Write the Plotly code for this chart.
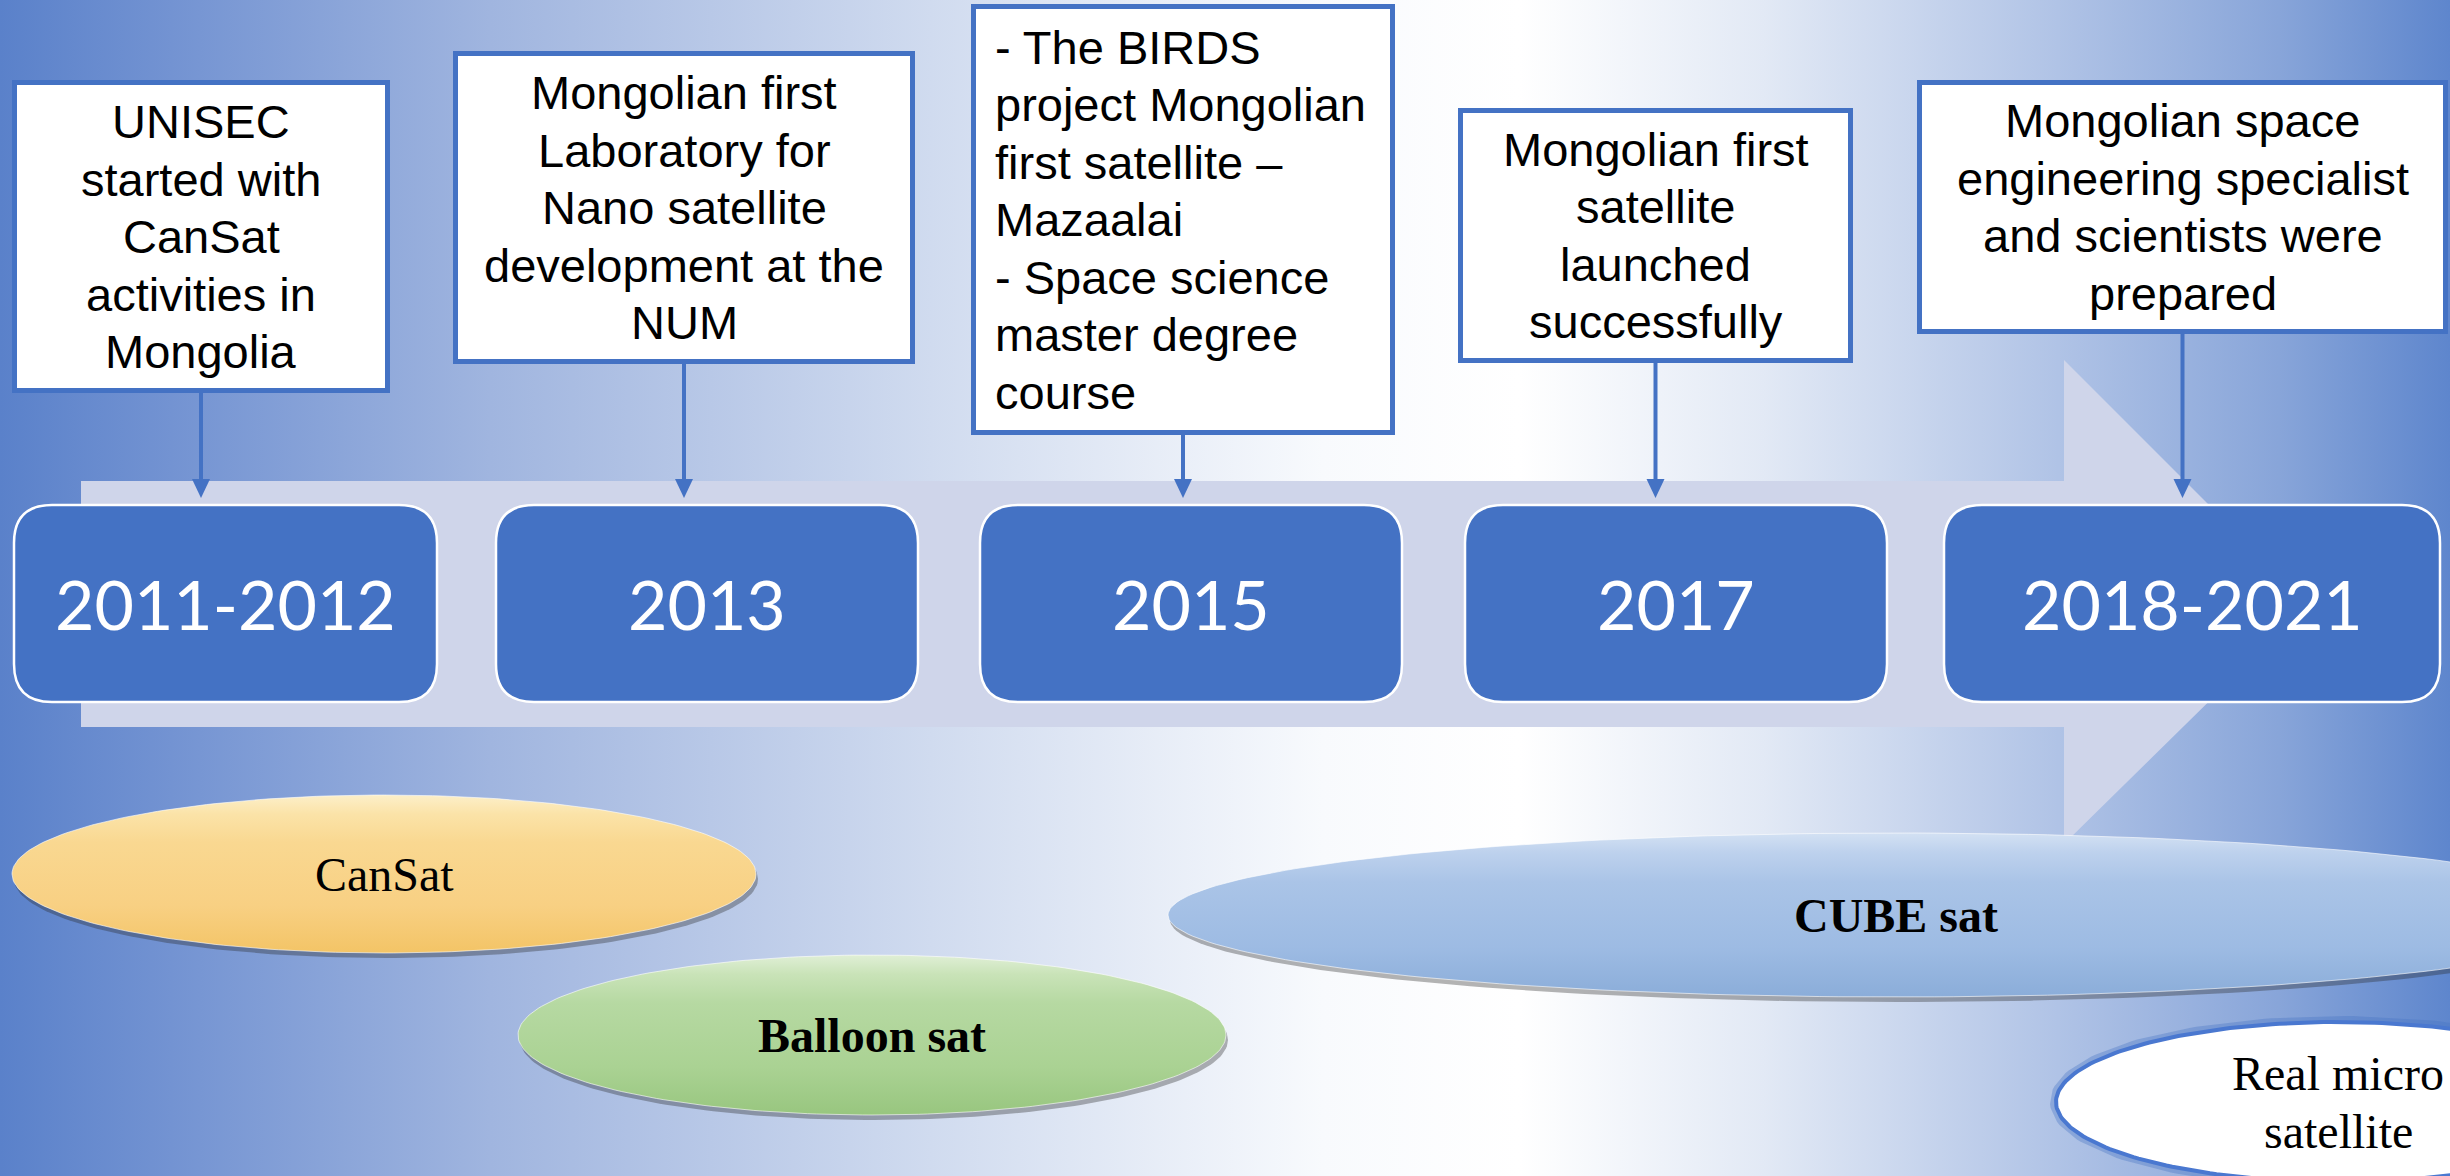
import numpy as np
import plotly.graph_objects as go

# ---------------- content ----------------
years = ["2011-2012", "2013", "2015", "2017", "2018-2021"]

event_lines = [
    ["UNISEC", "started with", "CanSat", "activities in", "Mongolia"],
    ["Mongolian first", "Laboratory for", "Nano satellite", "development at the", "NUM"],
    ["- The BIRDS", "project Mongolian", "first satellite \u2013", "Mazaalai",
     "- Space science", "master degree", "course"],
    ["Mongolian first", "satellite", "launched", "successfully"],
    ["Mongolian space", "engineering specialist", "and scientists were", "prepared"],
]
event_align = ["center", "center", "left", "center", "center"]

stage_lines = [["CanSat"], ["Balloon sat"], ["CUBE sat"], ["Real micro", "satellite"]]
stage_bold = [False, True, True, False]

# ---------------- layout geometry (pixels) ----------------
W, H = 2450, 1176
BLUE = "#4472C4"
YEAR_X = [(14, 437), (496, 918), (980, 1402), (1465, 1887), (1944, 2440)]
YEAR_Y = (505, 702)
EVENT_BOX = [(12, 390, 80, 393), (453, 915, 51, 364), (971, 1395, 4, 435),
             (1458, 1853, 108, 363), (1917, 2448, 80, 334)]
ELLIPSES = [(384, 874, 372, 79), (872, 1035, 354, 80), (1896, 915, 728, 82), (2338, 1102, 282, 80)]
# colours listed top -> bottom
STAGE_SCALES = [
    [[0, "#fcefc9"], [0.12, "#fbe3a8"], [0.3, "#f9d891"], [0.7, "#f8d083"], [1, "#f3c466"]],
    [[0, "#e0efd6"], [0.12, "#c9e3b8"], [0.3, "#b6d9a2"], [0.7, "#aad293"], [1, "#98c67f"]],
    [[0, "#d3e1f3"], [0.12, "#bdd1ed"], [0.3, "#aac4e7"], [0.7, "#9dbbe3"], [1, "#8badd9"]],
    None,
]
BG_SCALE = [[0, "#5a81ca"], [0.07, "#7393d2"], [0.2, "#a0b5df"], [0.38, "#d0dbef"],
            [0.54, "#f8fafd"], [0.62, "#ffffff"], [0.72, "#e2e9f5"], [0.84, "#b0c3e6"],
            [0.93, "#88a5d9"], [1, "#5e86cd"]]
LINE_STEP = 57.5


def flip(scale):
    return [[round(1 - p, 4), c] for p, c in reversed(scale)]


fig = go.Figure()

# background
fig.add_trace(go.Scatter(x=[0, W, W, 0, 0], y=[0, 0, H, H, 0], mode="lines", fill="toself",
                         line=dict(width=0), fillgradient=dict(type="horizontal", colorscale=BG_SCALE),
                         hoverinfo="skip"))

# big timeline arrow
bx0, bx1, by0, by1 = 81, 2064, 481, 727
hy0, hy1 = 360, 844
tip = bx1 + (by0 + by1) / 2 - hy0
fig.add_trace(go.Scatter(x=[bx0, bx1, bx1, tip, bx1, bx1, bx0, bx0],
                         y=[by0, by0, hy0, (by0 + by1) / 2, hy1, by1, by1, by0],
                         mode="lines", fill="toself", fillcolor="#cfd5ea",
                         line=dict(width=0), hoverinfo="skip"))

# stage ellipses
t = np.linspace(0, 2 * np.pi, 241)
for i, (cx, cy, rx, ry) in enumerate(ELLIPSES):
    ex = cx + rx * np.cos(t)
    ey = cy + ry * np.sin(t)
    if STAGE_SCALES[i] is not None:
        fig.add_trace(go.Scatter(x=ex + 2, y=ey + 5, mode="lines", fill="toself",
                                 fillcolor="rgba(40,40,40,0.35)", line=dict(width=0), hoverinfo="skip"))
        fig.add_trace(go.Scatter(x=ex, y=ey, mode="lines", fill="toself",
                                 fillgradient=dict(type="vertical", colorscale=flip(STAGE_SCALES[i])),
                                 line=dict(width=1, color="rgba(255,255,255,0.6)"), hoverinfo="skip"))
    else:
        fig.add_trace(go.Scatter(x=ex, y=ey, mode="lines", line=dict(width=12, color="rgba(68,114,196,0.35)"),
                                 hoverinfo="skip"))
        fig.add_trace(go.Scatter(x=ex, y=ey, mode="lines", fill="toself", fillcolor="white",
                                 line=dict(width=4, color="#4a78d0"), hoverinfo="skip"))

shapes = []
annotations = []


def rounded(x0, y0, x1, y1, r):
    return (f"M {x0 + r},{y0} L {x1 - r},{y0} Q {x1},{y0} {x1},{y0 + r} "
            f"L {x1},{y1 - r} Q {x1},{y1} {x1 - r},{y1} L {x0 + r},{y1} "
            f"Q {x0},{y1} {x0},{y1 - r} L {x0},{y0 + r} Q {x0},{y0} {x0 + r},{y0} Z")


# year boxes
for (x0, x1), label in zip(YEAR_X, years):
    shapes.append(dict(type="path", path=rounded(x0, YEAR_Y[0], x1, YEAR_Y[1], 38),
                       fillcolor=BLUE, line=dict(color="white", width=2.5), layer="above"))
    annotations.append(dict(x=(x0 + x1) / 2, y=(YEAR_Y[0] + YEAR_Y[1]) / 2, text=label, showarrow=False,
                            xanchor="center", yanchor="middle",
                            font=dict(family="Lato", size=68, color="white")))

# event boxes + connectors
for (x0, x1, y0, y1), lines, align in zip(EVENT_BOX, event_lines, event_align):
    lw = 5
    shapes.append(dict(type="rect", x0=x0 + lw / 2, x1=x1 - lw / 2, y0=y0 + lw / 2, y1=y1 - lw / 2,
                       fillcolor="white", line=dict(color=BLUE, width=lw), layer="above"))
    cx = (x0 + x1) / 2
    cy = (y0 + y1) / 2
    n = len(lines)
    for k, txt in enumerate(lines):
        ly = cy + (k - (n - 1) / 2) * LINE_STEP
        if align == "left":
            annotations.append(dict(x=x0 + 22, y=ly, text=txt, showarrow=False, xanchor="left",
                                    yanchor="middle",
                                    font=dict(family="Liberation Sans", size=47, color="black")))
        else:
            annotations.append(dict(x=cx, y=ly, text=txt, showarrow=False, xanchor="center",
                                    yanchor="middle",
                                    font=dict(family="Liberation Sans", size=47, color="black")))
    tip_y = YEAR_Y[0] - 7
    shapes.append(dict(type="line", x0=cx, x1=cx, y0=y1, y1=tip_y - 14,
                       line=dict(color=BLUE, width=4), layer="above"))
    shapes.append(dict(type="path", path=f"M {cx - 9},{tip_y - 19} L {cx + 9},{tip_y - 19} L {cx},{tip_y} Z",
                       fillcolor=BLUE, line=dict(width=0), layer="above"))

# stage labels
for (cx, cy, rx, ry), lines, bold in zip(ELLIPSES, stage_lines, stage_bold):
    n = len(lines)
    for k, txt in enumerate(lines):
        ly = cy + (k - (n - 1) / 2) * 58
        annotations.append(dict(x=cx, y=ly, text=f"<b>{txt}</b>" if bold else txt, showarrow=False,
                                xanchor="center", yanchor="middle",
                                font=dict(family="Liberation Serif", size=48, color="black")))

fig.update_layout(
    width=W, height=H, autosize=False,
    margin=dict(l=0, r=0, t=0, b=0, pad=0),
    paper_bgcolor="white", plot_bgcolor="white",
    showlegend=False,
    xaxis=dict(range=[0, W], visible=False, fixedrange=True),
    yaxis=dict(range=[H, 0], visible=False, fixedrange=True),
    shapes=shapes, annotations=annotations,
)

fig.write_html("out.html", config={"displayModeBar": False},
               post_script="document.body.style.margin='0';document.body.style.overflow='hidden';")
